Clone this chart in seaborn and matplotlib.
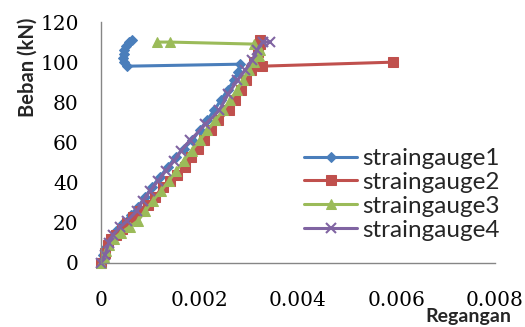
import matplotlib
matplotlib.use("Agg")
import matplotlib.pyplot as plt
import seaborn as sns
import pandas as pd

# strain (Regangan) vs load (Beban, kN) for each strain gauge
sg1_strain = [0, 0.00005, 0.0001, 0.00018, 0.0003, 0.00045, 0.0006, 0.00075, 0.0009, 0.00104,
              0.0012, 0.00136, 0.00152, 0.00168, 0.00185, 0.002, 0.00215, 0.0023, 0.00243,
              0.00257, 0.0027, 0.00278, 0.00283, 0.00053, 0.00047, 0.00045, 0.00046, 0.00047,
              0.0005, 0.00056, 0.00062]
sg1_load = [0, 4, 8, 12, 16, 20, 24, 28, 33, 38, 43, 48, 53, 57, 61, 66, 71, 76, 81, 86, 91,
            95, 99, 98, 100, 102, 104, 106, 108, 110, 111]

sg2_strain = [0, 0.00008, 0.00014, 0.0002, 0.0003, 0.00042, 0.00052, 0.00065, 0.0008, 0.00095,
              0.0011, 0.00125, 0.0014, 0.00155, 0.0017, 0.00183, 0.00196, 0.0021, 0.00224,
              0.00238, 0.0026, 0.00272, 0.00284, 0.00295, 0.00305, 0.0031, 0.00318, 0.00322,
              0.00322, 0.00326, 0.00592]
sg2_load = [0, 5, 9, 12, 14, 17, 20, 23, 26, 29, 33, 38, 41, 44, 48, 53, 57, 61, 66, 71, 76,
            81, 86, 91, 96, 100, 105, 109, 111, 98, 100]

sg3_strain = [0, 0.00006, 0.0001, 0.00016, 0.00026, 0.0004, 0.00058, 0.00075, 0.0009, 0.00105,
              0.00122, 0.00138, 0.00153, 0.00168, 0.00184, 0.002, 0.00216, 0.00232, 0.00248,
              0.00262, 0.00276, 0.00289, 0.003, 0.0031, 0.0032, 0.00322, 0.0031, 0.0014,
              0.00114]
sg3_load = [0, 3, 6, 9, 12, 15, 18, 21, 26, 31, 36, 41, 46, 51, 56, 61, 66, 71, 76, 81, 86,
            91, 96, 100, 103, 106, 109, 110, 110]

sg4_strain = [0, 0.00008, 0.00016, 0.00024, 0.00039, 0.00053, 0.00073, 0.00085, 0.001, 0.00116,
              0.00132, 0.00149, 0.00163, 0.00181, 0.00212, 0.0024, 0.00258, 0.00277, 0.00293,
              0.00307, 0.00317, 0.00328, 0.00344]
sg4_load = [0, 4, 10, 14, 18, 21, 26, 31, 36, 41, 46, 51, 56, 61, 69, 76, 84, 91, 96, 101,
            106, 110, 110]

series_names = ["straingauge1", "straingauge2", "straingauge3", "straingauge4"]
x_ticks = [0, 0.002, 0.004, 0.006, 0.008]
x_tick_labels = ["0", "0.002", "0.004", "0.006", "0.008"]
y_ticks = [0, 20, 40, 60, 80, 100, 120]

sns.set_style("white")

fig = plt.figure(figsize=(5.25, 3.27), dpi=100)
ax = fig.add_axes([101 / 525, 1 - 263 / 327, 394 / 525, 241 / 327])

styles = [
    dict(color="#4A7EBB", marker="D", markersize=5.5, mec="#4A7EBB"),
    dict(color="#C0504D", marker="s", markersize=7, mec="#C0504D"),
    dict(color="#9BBB59", marker="^", markersize=6.5, mec="#9BBB59"),
    dict(color="#8064A2", marker="x", markersize=6.5, mew=1.5, mec="#8064A2"),
]
data = [(sg1_strain, sg1_load), (sg2_strain, sg2_load),
        (sg3_strain, sg3_load), (sg4_strain, sg4_load)]

for name, (xs, ys), st in zip(series_names, data, styles):
    df = pd.DataFrame({"strain": xs, "load": ys})
    sns.lineplot(data=df, x="strain", y="load", sort=False, estimator=None,
                 linewidth=2.2, label=name, ax=ax, **st)

ax.set_xlim(0, 0.008)
ax.set_ylim(0, 120)
ax.set_xticks(x_ticks)
ax.set_xticklabels(x_tick_labels)
ax.set_yticks(y_ticks)
ax.set_xlabel("")
ax.set_ylabel("")
ax.tick_params(axis="both", length=0, labelsize=14.5, colors="black")
ax.tick_params(axis="x", pad=20)
ax.tick_params(axis="y", pad=16)
for lab in ax.get_xticklabels() + ax.get_yticklabels():
    lab.set_family("DejaVu Serif")

for side in ["top", "right"]:
    ax.spines[side].set_visible(False)
for side in ["left", "bottom"]:
    ax.spines[side].set_color("#868686")
    ax.spines[side].set_linewidth(1.0)
for line in ax.lines:
    line.set_clip_on(False)

leg = ax.legend(loc="upper left", bbox_to_anchor=(203 / 394, 1 - 126 / 241),
                frameon=False, prop={"family": "Lato", "size": 17.5},
                handlelength=2.2, handletextpad=0.2, labelspacing=0.12,
                borderaxespad=0, borderpad=0)

fig.text(28 / 525, 1 - 67 / 327, "Beban (kN)", rotation=90, ha="center", va="center",
         fontsize=14.5, fontweight="bold", family="Lato")
fig.text(468 / 525, 2 / 327, "Regangan", ha="center", va="bottom",
         fontsize=14, fontweight="bold", family="Lato")

fig.savefig("out.png", dpi=100)
